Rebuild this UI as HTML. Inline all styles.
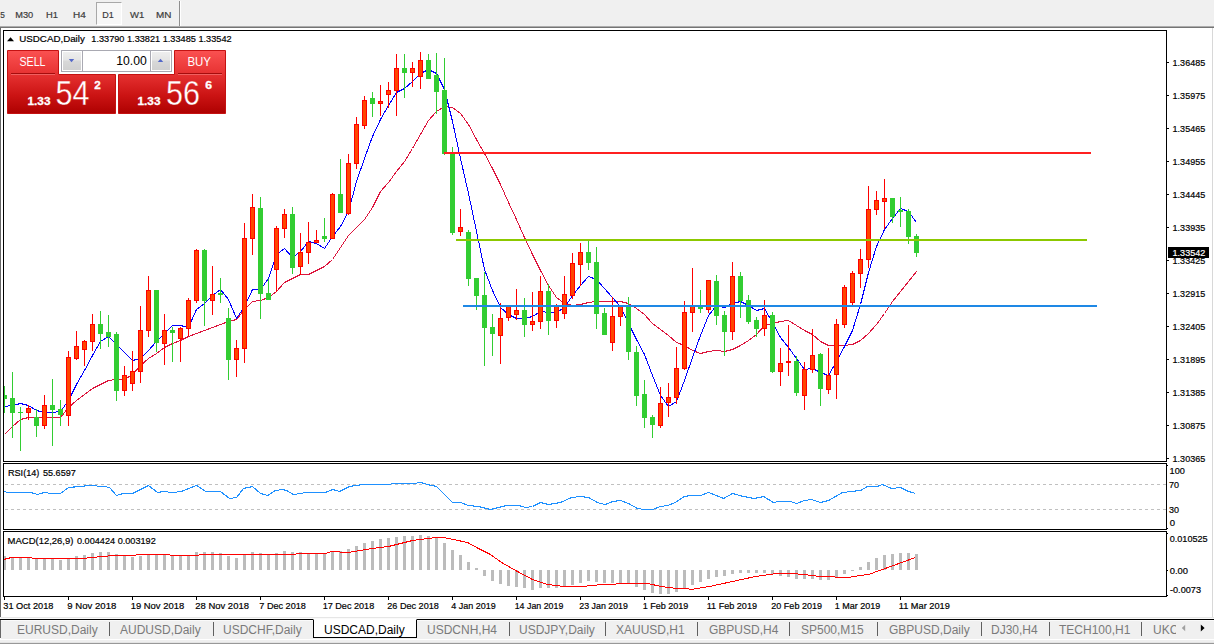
<!DOCTYPE html>
<html><head><meta charset="utf-8">
<style>
*{margin:0;padding:0;box-sizing:border-box}
html,body{width:1214px;height:644px;overflow:hidden;background:#fff;font-family:"Liberation Sans",sans-serif;}
.abs{position:absolute}
#toolbar{position:absolute;left:0;top:0;width:1214px;height:26px;background:#f0f0f0}
#tbline{position:absolute;left:0;top:26px;width:1214px;height:2px;background:#747474;border-top:1px solid #acacac}
.tf{position:absolute;top:9px;font-size:9.5px;color:#3c3c3c;line-height:11px;-webkit-text-stroke:0.15px #3c3c3c}
#d1{position:absolute;left:96px;top:2px;width:26px;height:23px;background:#f7f7f7;border:1px solid #a8a8a8;border-right-color:#fff;border-bottom-color:#fff}
#tbsep{position:absolute;left:179px;top:1px;width:2px;height:25px;background:#fff;border-left:1px solid #8e8e8e}
#leftedge{position:absolute;left:0;top:28px;width:1px;height:610px;background:#686868}
#rightedge{position:absolute;left:1212px;top:28px;width:1px;height:590px;background:#d8d8d8}
#tabbar{position:absolute;left:1px;top:620px;width:1213px;height:19px;background:#f0f0f0;border-top:1px solid #fafafa}
#tabtop{position:absolute;left:0;top:619px;width:1214px;height:1px;background:#000}
#tabpre{position:absolute;left:0;top:617px;width:1214px;height:2px;background:#fafafa;border-top:1px solid #e6e6e6}
#bot1{position:absolute;left:0;top:639px;width:1214px;height:3px;background:#efefef;border-top:1px solid #fff}
#bot2{position:absolute;left:0;top:642px;width:1214px;height:2px;background:#989898;border-top:1px solid #e4e4e4}
.tab{position:absolute;top:623px;font-size:12px;line-height:14px;color:#7a7a7a;white-space:nowrap}
.sep{position:absolute;top:622px;width:1px;height:14px;background:#606060}
#acttab{position:absolute;left:313px;top:619px;width:104px;height:19px;background:#fff;border:1px solid #000;border-top:1px solid #fff}
.lbl{position:absolute;font-size:10px;line-height:10px;color:#000;white-space:nowrap}
</style></head><body>
<div id="toolbar"></div><div id="tbline"></div>
<div id="d1"></div>
<div id="tbsep"></div>
<div id="leftedge"></div><div id="rightedge"></div>
<svg class="abs" style="left:0;top:0" width="1214" height="644" viewBox="0 0 1214 644" font-family="Liberation Sans, sans-serif">
<path d="M4.5,434.5 L12.5,426.5 L20.5,419.5 L28.5,417.5 L36.5,417.5 L44.5,417.5 L52.5,417.5 L60.5,417.5 L68.5,407.5 L76.5,400.5 L84.5,394.5 L92.5,388.5 L100.5,384.5 L108.5,380.5 L116.5,379.5 L124.5,379.5 L132.5,374.5 L140.5,365.5 L148.5,358.5 L156.5,353.5 L164.5,347.5 L172.5,343.5 L180.5,340.5 L188.5,336.5 L196.5,333.5 L204.5,330.5 L212.5,327.5 L220.5,324.5 L228.5,321.5 L236.5,319.5 L244.5,309.5 L252.5,301.5 L260.5,300.5 L268.5,297.5 L276.5,291.5 L284.5,282.5 L292.5,278.5 L300.5,274.5 L308.5,274.5 L316.5,270.5 L324.5,266.5 L332.5,259.5 L340.5,247.5 L348.5,235.5 L356.5,227.5 L364.5,219.5 L372.5,207.5 L380.5,191.5 L388.5,182.5 L396.5,171.5 L404.5,161.5 L412.5,148.5 L420.5,134.5 L428.5,120.5 L436.5,111.5 L444.5,106.5 L452.5,107.5 L460.5,113.5 L468.5,124.5 L476.5,139.5 L484.5,153.5 L492.5,168.5 L500.5,184.5 L508.5,202.5 L516.5,219.5 L524.5,237.5 L532.5,254.5 L540.5,270.5 L548.5,285.5 L556.5,297.5 L564.5,303.5 L572.5,305.5 L580.5,304.5 L588.5,302.5 L596.5,301.5 L604.5,301.5 L612.5,301.5 L620.5,301.5 L628.5,303.5 L636.5,308.5 L644.5,314.5 L652.5,323.5 L660.5,329.5 L668.5,335.5 L676.5,342.5 L684.5,345.5 L692.5,350.5 L700.5,353.5 L708.5,351.5 L716.5,350.5 L724.5,351.5 L732.5,349.5 L740.5,345.5 L748.5,340.5 L756.5,334.5 L764.5,325.5 L772.5,323.5 L780.5,321.5 L788.5,320.5 L796.5,325.5 L804.5,330.5 L812.5,334.5 L820.5,341.5 L828.5,345.5 L836.5,345.5 L844.5,345.5 L852.5,344.5 L860.5,340.5 L868.5,333.5 L876.5,324.5 L884.5,313.5 L892.5,301.5 L900.5,291.5 L908.5,281.5 L916.5,271.5" fill="none" stroke="#dc143c" stroke-width="1.0" stroke-linejoin="round" shape-rendering="crispEdges"/>
<path d="M4.5,406.5 L12.5,405.5 L20.5,403.5 L28.5,405.5 L36.5,410.5 L44.5,412.5 L52.5,412.5 L60.5,411.5 L68.5,400.5 L76.5,384.5 L84.5,370.5 L92.5,355.5 L100.5,341.5 L108.5,336.5 L116.5,344.5 L124.5,352.5 L132.5,360.5 L140.5,358.5 L148.5,350.5 L156.5,341.5 L164.5,333.5 L172.5,325.5 L180.5,325.5 L188.5,327.5 L196.5,309.5 L204.5,303.5 L212.5,295.5 L220.5,289.5 L228.5,299.5 L236.5,318.5 L244.5,306.5 L252.5,289.5 L260.5,289.5 L268.5,278.5 L276.5,254.5 L284.5,248.5 L292.5,257.5 L300.5,251.5 L308.5,241.5 L316.5,243.5 L324.5,248.5 L332.5,236.5 L340.5,226.5 L348.5,211.5 L356.5,181.5 L364.5,158.5 L372.5,136.5 L380.5,119.5 L388.5,105.5 L396.5,92.5 L404.5,88.5 L412.5,81.5 L420.5,73.5 L428.5,69.5 L436.5,73.5 L444.5,89.5 L452.5,121.5 L460.5,158.5 L468.5,193.5 L476.5,231.5 L484.5,269.5 L492.5,290.5 L500.5,307.5 L508.5,314.5 L516.5,318.5 L524.5,318.5 L532.5,316.5 L540.5,311.5 L548.5,312.5 L556.5,312.5 L564.5,307.5 L572.5,295.5 L580.5,285.5 L588.5,276.5 L596.5,279.5 L604.5,288.5 L612.5,297.5 L620.5,306.5 L628.5,323.5 L636.5,339.5 L644.5,354.5 L652.5,375.5 L660.5,395.5 L668.5,406.5 L676.5,401.5 L684.5,380.5 L692.5,357.5 L700.5,335.5 L708.5,315.5 L716.5,305.5 L724.5,307.5 L732.5,303.5 L740.5,301.5 L748.5,305.5 L756.5,310.5 L764.5,308.5 L772.5,322.5 L780.5,337.5 L788.5,347.5 L796.5,358.5 L804.5,369.5 L812.5,368.5 L820.5,372.5 L828.5,375.5 L836.5,361.5 L844.5,346.5 L852.5,330.5 L860.5,304.5 L868.5,272.5 L876.5,246.5 L884.5,229.5 L892.5,218.5 L900.5,208.5 L908.5,211.5 L916.5,222.5" fill="none" stroke="#0000ff" stroke-width="1.0" stroke-linejoin="round" shape-rendering="crispEdges"/>
<clipPath id="cc"><rect x="4" y="31" width="1162" height="430"/></clipPath>
<g shape-rendering="crispEdges" clip-path="url(#cc)">
<rect x="4" y="386" width="1" height="27" fill="#32cd32" />
<rect x="2" y="395" width="5" height="4" fill="#32cd32" />
<rect x="12" y="372" width="1" height="66" fill="#32cd32" />
<rect x="10" y="398" width="5" height="15" fill="#32cd32" />
<rect x="20" y="407" width="1" height="44" fill="#32cd32" />
<rect x="18" y="412" width="5" height="1" fill="#32cd32" />
<rect x="28" y="405" width="1" height="15" fill="#ff0000" />
<rect x="26" y="408" width="5" height="5" fill="#ff0000" />
<rect x="27" y="409" width="3" height="3" fill="#ff4500" />
<rect x="36" y="409" width="1" height="28" fill="#32cd32" />
<rect x="34" y="417" width="5" height="9" fill="#32cd32" />
<rect x="44" y="395" width="1" height="34" fill="#ff0000" />
<rect x="42" y="405" width="5" height="21" fill="#ff0000" />
<rect x="43" y="406" width="3" height="19" fill="#ff4500" />
<rect x="52" y="379" width="1" height="67" fill="#32cd32" />
<rect x="50" y="405" width="5" height="5" fill="#32cd32" />
<rect x="60" y="400" width="1" height="26" fill="#32cd32" />
<rect x="58" y="409" width="5" height="6" fill="#32cd32" />
<rect x="68" y="351" width="1" height="75" fill="#ff0000" />
<rect x="66" y="357" width="5" height="59" fill="#ff0000" />
<rect x="67" y="358" width="3" height="57" fill="#ff4500" />
<rect x="76" y="331" width="1" height="29" fill="#ff0000" />
<rect x="74" y="346" width="5" height="13" fill="#ff0000" />
<rect x="75" y="347" width="3" height="11" fill="#ff4500" />
<rect x="84" y="340" width="1" height="26" fill="#ff0000" />
<rect x="82" y="341" width="5" height="9" fill="#ff0000" />
<rect x="83" y="342" width="3" height="7" fill="#ff4500" />
<rect x="92" y="314" width="1" height="37" fill="#ff0000" />
<rect x="90" y="324" width="5" height="18" fill="#ff0000" />
<rect x="91" y="325" width="3" height="16" fill="#ff4500" />
<rect x="100" y="311" width="1" height="38" fill="#32cd32" />
<rect x="98" y="324" width="5" height="10" fill="#32cd32" />
<rect x="108" y="315" width="1" height="32" fill="#32cd32" />
<rect x="106" y="332" width="5" height="5" fill="#32cd32" />
<rect x="116" y="332" width="1" height="69" fill="#32cd32" />
<rect x="114" y="334" width="5" height="57" fill="#32cd32" />
<rect x="124" y="366" width="1" height="30" fill="#ff0000" />
<rect x="122" y="375" width="5" height="16" fill="#ff0000" />
<rect x="123" y="376" width="3" height="14" fill="#ff4500" />
<rect x="132" y="351" width="1" height="40" fill="#ff0000" />
<rect x="130" y="371" width="5" height="13" fill="#ff0000" />
<rect x="131" y="372" width="3" height="11" fill="#ff4500" />
<rect x="140" y="306" width="1" height="77" fill="#ff0000" />
<rect x="138" y="330" width="5" height="42" fill="#ff0000" />
<rect x="139" y="331" width="3" height="40" fill="#ff4500" />
<rect x="148" y="276" width="1" height="61" fill="#ff0000" />
<rect x="146" y="290" width="5" height="41" fill="#ff0000" />
<rect x="147" y="291" width="3" height="39" fill="#ff4500" />
<rect x="156" y="290" width="1" height="62" fill="#32cd32" />
<rect x="154" y="290" width="5" height="53" fill="#32cd32" />
<rect x="164" y="314" width="1" height="51" fill="#ff0000" />
<rect x="162" y="330" width="5" height="14" fill="#ff0000" />
<rect x="163" y="331" width="3" height="12" fill="#ff4500" />
<rect x="172" y="327" width="1" height="35" fill="#32cd32" />
<rect x="170" y="330" width="5" height="3" fill="#32cd32" />
<rect x="180" y="327" width="1" height="35" fill="#ff0000" />
<rect x="178" y="328" width="5" height="11" fill="#ff0000" />
<rect x="179" y="329" width="3" height="9" fill="#ff4500" />
<rect x="188" y="298" width="1" height="38" fill="#ff0000" />
<rect x="186" y="300" width="5" height="29" fill="#ff0000" />
<rect x="187" y="301" width="3" height="27" fill="#ff4500" />
<rect x="196" y="249" width="1" height="54" fill="#ff0000" />
<rect x="194" y="250" width="5" height="51" fill="#ff0000" />
<rect x="195" y="251" width="3" height="49" fill="#ff4500" />
<rect x="204" y="249" width="1" height="77" fill="#32cd32" />
<rect x="202" y="250" width="5" height="51" fill="#32cd32" />
<rect x="212" y="266" width="1" height="49" fill="#ff0000" />
<rect x="210" y="294" width="5" height="7" fill="#ff0000" />
<rect x="211" y="295" width="3" height="5" fill="#ff4500" />
<rect x="220" y="278" width="1" height="25" fill="#32cd32" />
<rect x="218" y="293" width="5" height="2" fill="#32cd32" />
<rect x="228" y="308" width="1" height="72" fill="#32cd32" />
<rect x="226" y="318" width="5" height="42" fill="#32cd32" />
<rect x="236" y="340" width="1" height="37" fill="#ff0000" />
<rect x="234" y="348" width="5" height="12" fill="#ff0000" />
<rect x="235" y="349" width="3" height="10" fill="#ff4500" />
<rect x="244" y="223" width="1" height="140" fill="#ff0000" />
<rect x="242" y="238" width="5" height="111" fill="#ff0000" />
<rect x="243" y="239" width="3" height="109" fill="#ff4500" />
<rect x="252" y="194" width="1" height="61" fill="#ff0000" />
<rect x="250" y="207" width="5" height="32" fill="#ff0000" />
<rect x="251" y="208" width="3" height="30" fill="#ff4500" />
<rect x="260" y="197" width="1" height="122" fill="#32cd32" />
<rect x="258" y="208" width="5" height="86" fill="#32cd32" />
<rect x="268" y="279" width="1" height="21" fill="#32cd32" />
<rect x="266" y="293" width="5" height="7" fill="#32cd32" />
<rect x="276" y="226" width="1" height="66" fill="#ff0000" />
<rect x="274" y="228" width="5" height="42" fill="#ff0000" />
<rect x="275" y="229" width="3" height="40" fill="#ff4500" />
<rect x="284" y="209" width="1" height="29" fill="#ff0000" />
<rect x="282" y="214" width="5" height="15" fill="#ff0000" />
<rect x="283" y="215" width="3" height="13" fill="#ff4500" />
<rect x="292" y="207" width="1" height="67" fill="#32cd32" />
<rect x="290" y="214" width="5" height="54" fill="#32cd32" />
<rect x="300" y="233" width="1" height="42" fill="#ff0000" />
<rect x="298" y="252" width="5" height="15" fill="#ff0000" />
<rect x="299" y="253" width="3" height="13" fill="#ff4500" />
<rect x="308" y="222" width="1" height="42" fill="#ff0000" />
<rect x="306" y="242" width="5" height="11" fill="#ff0000" />
<rect x="307" y="243" width="3" height="9" fill="#ff4500" />
<rect x="316" y="230" width="1" height="13" fill="#ff0000" />
<rect x="314" y="240" width="5" height="3" fill="#ff0000" />
<rect x="315" y="241" width="3" height="1" fill="#ff4500" />
<rect x="324" y="218" width="1" height="24" fill="#32cd32" />
<rect x="322" y="236" width="5" height="3" fill="#32cd32" />
<rect x="332" y="193" width="1" height="46" fill="#ff0000" />
<rect x="330" y="194" width="5" height="45" fill="#ff0000" />
<rect x="331" y="195" width="3" height="43" fill="#ff4500" />
<rect x="340" y="159" width="1" height="54" fill="#32cd32" />
<rect x="338" y="194" width="5" height="19" fill="#32cd32" />
<rect x="348" y="154" width="1" height="61" fill="#ff0000" />
<rect x="346" y="163" width="5" height="51" fill="#ff0000" />
<rect x="347" y="164" width="3" height="49" fill="#ff4500" />
<rect x="356" y="117" width="1" height="52" fill="#ff0000" />
<rect x="354" y="124" width="5" height="40" fill="#ff0000" />
<rect x="355" y="125" width="3" height="38" fill="#ff4500" />
<rect x="364" y="96" width="1" height="33" fill="#ff0000" />
<rect x="362" y="100" width="5" height="26" fill="#ff0000" />
<rect x="363" y="101" width="3" height="24" fill="#ff4500" />
<rect x="372" y="92" width="1" height="25" fill="#32cd32" />
<rect x="370" y="98" width="5" height="6" fill="#32cd32" />
<rect x="380" y="85" width="1" height="31" fill="#ff0000" />
<rect x="378" y="101" width="5" height="3" fill="#ff0000" />
<rect x="379" y="102" width="3" height="1" fill="#ff4500" />
<rect x="388" y="82" width="1" height="26" fill="#ff0000" />
<rect x="386" y="90" width="5" height="5" fill="#ff0000" />
<rect x="387" y="91" width="3" height="3" fill="#ff4500" />
<rect x="396" y="54" width="1" height="62" fill="#ff0000" />
<rect x="394" y="68" width="5" height="23" fill="#ff0000" />
<rect x="395" y="69" width="3" height="21" fill="#ff4500" />
<rect x="404" y="54" width="1" height="44" fill="#32cd32" />
<rect x="402" y="68" width="5" height="5" fill="#32cd32" />
<rect x="412" y="62" width="1" height="25" fill="#ff0000" />
<rect x="410" y="68" width="5" height="5" fill="#ff0000" />
<rect x="411" y="69" width="3" height="3" fill="#ff4500" />
<rect x="420" y="52" width="1" height="37" fill="#ff0000" />
<rect x="418" y="60" width="5" height="17" fill="#ff0000" />
<rect x="419" y="61" width="3" height="15" fill="#ff4500" />
<rect x="428" y="54" width="1" height="25" fill="#32cd32" />
<rect x="426" y="60" width="5" height="19" fill="#32cd32" />
<rect x="436" y="53" width="1" height="61" fill="#32cd32" />
<rect x="434" y="75" width="5" height="17" fill="#32cd32" />
<rect x="444" y="58" width="1" height="97" fill="#32cd32" />
<rect x="442" y="90" width="5" height="64" fill="#32cd32" />
<rect x="452" y="147" width="1" height="88" fill="#32cd32" />
<rect x="450" y="153" width="5" height="80" fill="#32cd32" />
<rect x="460" y="209" width="1" height="27" fill="#ff0000" />
<rect x="458" y="227" width="5" height="5" fill="#ff0000" />
<rect x="459" y="228" width="3" height="3" fill="#ff4500" />
<rect x="468" y="230" width="1" height="56" fill="#32cd32" />
<rect x="466" y="232" width="5" height="47" fill="#32cd32" />
<rect x="476" y="278" width="1" height="32" fill="#32cd32" />
<rect x="474" y="278" width="5" height="18" fill="#32cd32" />
<rect x="484" y="272" width="1" height="94" fill="#32cd32" />
<rect x="482" y="295" width="5" height="33" fill="#32cd32" />
<rect x="492" y="314" width="1" height="42" fill="#32cd32" />
<rect x="490" y="327" width="5" height="7" fill="#32cd32" />
<rect x="500" y="303" width="1" height="61" fill="#ff0000" />
<rect x="498" y="318" width="5" height="18" fill="#ff0000" />
<rect x="499" y="319" width="3" height="16" fill="#ff4500" />
<rect x="508" y="305" width="1" height="16" fill="#ff0000" />
<rect x="506" y="306" width="5" height="12" fill="#ff0000" />
<rect x="507" y="307" width="3" height="10" fill="#ff4500" />
<rect x="516" y="289" width="1" height="31" fill="#ff0000" />
<rect x="514" y="310" width="5" height="5" fill="#ff0000" />
<rect x="515" y="311" width="3" height="3" fill="#ff4500" />
<rect x="524" y="298" width="1" height="39" fill="#32cd32" />
<rect x="522" y="310" width="5" height="15" fill="#32cd32" />
<rect x="532" y="292" width="1" height="39" fill="#ff0000" />
<rect x="530" y="321" width="5" height="4" fill="#ff0000" />
<rect x="531" y="322" width="3" height="2" fill="#ff4500" />
<rect x="540" y="276" width="1" height="53" fill="#ff0000" />
<rect x="538" y="291" width="5" height="31" fill="#ff0000" />
<rect x="539" y="292" width="3" height="29" fill="#ff4500" />
<rect x="548" y="284" width="1" height="51" fill="#32cd32" />
<rect x="546" y="291" width="5" height="30" fill="#32cd32" />
<rect x="556" y="304" width="1" height="24" fill="#ff0000" />
<rect x="554" y="306" width="5" height="15" fill="#ff0000" />
<rect x="555" y="307" width="3" height="13" fill="#ff4500" />
<rect x="564" y="276" width="1" height="43" fill="#ff0000" />
<rect x="562" y="294" width="5" height="20" fill="#ff0000" />
<rect x="563" y="295" width="3" height="18" fill="#ff4500" />
<rect x="572" y="253" width="1" height="46" fill="#ff0000" />
<rect x="570" y="263" width="5" height="33" fill="#ff0000" />
<rect x="571" y="264" width="3" height="31" fill="#ff4500" />
<rect x="580" y="243" width="1" height="43" fill="#ff0000" />
<rect x="578" y="252" width="5" height="13" fill="#ff0000" />
<rect x="579" y="253" width="3" height="11" fill="#ff4500" />
<rect x="588" y="240" width="1" height="30" fill="#32cd32" />
<rect x="586" y="252" width="5" height="11" fill="#32cd32" />
<rect x="596" y="247" width="1" height="82" fill="#32cd32" />
<rect x="594" y="262" width="5" height="52" fill="#32cd32" />
<rect x="604" y="308" width="1" height="27" fill="#32cd32" />
<rect x="602" y="313" width="5" height="22" fill="#32cd32" />
<rect x="612" y="297" width="1" height="54" fill="#ff0000" />
<rect x="610" y="316" width="5" height="27" fill="#ff0000" />
<rect x="611" y="317" width="3" height="25" fill="#ff4500" />
<rect x="620" y="305" width="1" height="21" fill="#ff0000" />
<rect x="618" y="306" width="5" height="11" fill="#ff0000" />
<rect x="619" y="307" width="3" height="9" fill="#ff4500" />
<rect x="628" y="297" width="1" height="63" fill="#32cd32" />
<rect x="626" y="306" width="5" height="46" fill="#32cd32" />
<rect x="636" y="346" width="1" height="60" fill="#32cd32" />
<rect x="634" y="352" width="5" height="44" fill="#32cd32" />
<rect x="644" y="380" width="1" height="48" fill="#32cd32" />
<rect x="642" y="394" width="5" height="24" fill="#32cd32" />
<rect x="652" y="415" width="1" height="23" fill="#32cd32" />
<rect x="650" y="417" width="5" height="8" fill="#32cd32" />
<rect x="660" y="387" width="1" height="41" fill="#ff0000" />
<rect x="658" y="403" width="5" height="23" fill="#ff0000" />
<rect x="659" y="404" width="3" height="21" fill="#ff4500" />
<rect x="668" y="383" width="1" height="34" fill="#ff0000" />
<rect x="666" y="397" width="5" height="6" fill="#ff0000" />
<rect x="667" y="398" width="3" height="4" fill="#ff4500" />
<rect x="676" y="347" width="1" height="57" fill="#ff0000" />
<rect x="674" y="368" width="5" height="30" fill="#ff0000" />
<rect x="675" y="369" width="3" height="28" fill="#ff4500" />
<rect x="684" y="301" width="1" height="69" fill="#ff0000" />
<rect x="682" y="312" width="5" height="57" fill="#ff0000" />
<rect x="683" y="313" width="3" height="55" fill="#ff4500" />
<rect x="692" y="268" width="1" height="64" fill="#ff0000" />
<rect x="690" y="306" width="5" height="7" fill="#ff0000" />
<rect x="691" y="307" width="3" height="5" fill="#ff4500" />
<rect x="700" y="290" width="1" height="23" fill="#32cd32" />
<rect x="698" y="307" width="5" height="2" fill="#32cd32" />
<rect x="708" y="280" width="1" height="33" fill="#ff0000" />
<rect x="706" y="280" width="5" height="30" fill="#ff0000" />
<rect x="707" y="281" width="3" height="28" fill="#ff4500" />
<rect x="716" y="275" width="1" height="50" fill="#32cd32" />
<rect x="714" y="281" width="5" height="35" fill="#32cd32" />
<rect x="724" y="311" width="1" height="45" fill="#32cd32" />
<rect x="722" y="315" width="5" height="17" fill="#32cd32" />
<rect x="732" y="262" width="1" height="78" fill="#ff0000" />
<rect x="730" y="276" width="5" height="56" fill="#ff0000" />
<rect x="731" y="277" width="3" height="54" fill="#ff4500" />
<rect x="740" y="272" width="1" height="46" fill="#32cd32" />
<rect x="738" y="276" width="5" height="25" fill="#32cd32" />
<rect x="748" y="295" width="1" height="29" fill="#32cd32" />
<rect x="746" y="300" width="5" height="22" fill="#32cd32" />
<rect x="756" y="317" width="1" height="20" fill="#32cd32" />
<rect x="754" y="320" width="5" height="9" fill="#32cd32" />
<rect x="764" y="300" width="1" height="36" fill="#ff0000" />
<rect x="762" y="315" width="5" height="14" fill="#ff0000" />
<rect x="763" y="316" width="3" height="12" fill="#ff4500" />
<rect x="772" y="312" width="1" height="61" fill="#32cd32" />
<rect x="770" y="315" width="5" height="57" fill="#32cd32" />
<rect x="780" y="348" width="1" height="38" fill="#ff0000" />
<rect x="778" y="363" width="5" height="9" fill="#ff0000" />
<rect x="779" y="364" width="3" height="7" fill="#ff4500" />
<rect x="788" y="325" width="1" height="51" fill="#ff0000" />
<rect x="786" y="361" width="5" height="2" fill="#ff0000" />
<rect x="796" y="356" width="1" height="40" fill="#32cd32" />
<rect x="794" y="361" width="5" height="32" fill="#32cd32" />
<rect x="804" y="362" width="1" height="48" fill="#ff0000" />
<rect x="802" y="369" width="5" height="27" fill="#ff0000" />
<rect x="803" y="370" width="3" height="25" fill="#ff4500" />
<rect x="812" y="329" width="1" height="44" fill="#ff0000" />
<rect x="810" y="355" width="5" height="15" fill="#ff0000" />
<rect x="811" y="356" width="3" height="13" fill="#ff4500" />
<rect x="820" y="353" width="1" height="53" fill="#32cd32" />
<rect x="818" y="354" width="5" height="35" fill="#32cd32" />
<rect x="828" y="348" width="1" height="46" fill="#ff0000" />
<rect x="826" y="375" width="5" height="15" fill="#ff0000" />
<rect x="827" y="376" width="3" height="13" fill="#ff4500" />
<rect x="836" y="319" width="1" height="80" fill="#ff0000" />
<rect x="834" y="324" width="5" height="51" fill="#ff0000" />
<rect x="835" y="325" width="3" height="49" fill="#ff4500" />
<rect x="844" y="285" width="1" height="43" fill="#ff0000" />
<rect x="842" y="287" width="5" height="38" fill="#ff0000" />
<rect x="843" y="288" width="3" height="36" fill="#ff4500" />
<rect x="852" y="271" width="1" height="34" fill="#ff0000" />
<rect x="850" y="273" width="5" height="30" fill="#ff0000" />
<rect x="851" y="274" width="3" height="28" fill="#ff4500" />
<rect x="860" y="249" width="1" height="39" fill="#ff0000" />
<rect x="858" y="259" width="5" height="15" fill="#ff0000" />
<rect x="859" y="260" width="3" height="13" fill="#ff4500" />
<rect x="868" y="186" width="1" height="82" fill="#ff0000" />
<rect x="866" y="209" width="5" height="51" fill="#ff0000" />
<rect x="867" y="210" width="3" height="49" fill="#ff4500" />
<rect x="876" y="191" width="1" height="24" fill="#ff0000" />
<rect x="874" y="200" width="5" height="10" fill="#ff0000" />
<rect x="875" y="201" width="3" height="8" fill="#ff4500" />
<rect x="884" y="179" width="1" height="50" fill="#ff0000" />
<rect x="882" y="198" width="5" height="4" fill="#ff0000" />
<rect x="883" y="199" width="3" height="2" fill="#ff4500" />
<rect x="892" y="198" width="1" height="25" fill="#32cd32" />
<rect x="890" y="198" width="5" height="19" fill="#32cd32" />
<rect x="900" y="197" width="1" height="30" fill="#32cd32" />
<rect x="898" y="210" width="5" height="2" fill="#32cd32" />
<rect x="908" y="209" width="1" height="35" fill="#32cd32" />
<rect x="906" y="211" width="5" height="26" fill="#32cd32" />
<rect x="916" y="234" width="1" height="23" fill="#32cd32" />
<rect x="914" y="236" width="5" height="17" fill="#32cd32" />
<rect x="444" y="152" width="647" height="2" fill="#ff2020" />
<rect x="456" y="239" width="631" height="2" fill="#8cc800" />
<rect x="463" y="305" width="634" height="2" fill="#1e88e5" />
</g>
<g shape-rendering="crispEdges">
<line x1="5" y1="484.5" x2="1166" y2="484.5" stroke="#c0c0c0" stroke-width="1" stroke-dasharray="3,3"/>
<line x1="5" y1="509.5" x2="1166" y2="509.5" stroke="#c0c0c0" stroke-width="1" stroke-dasharray="3,3"/>
<rect x="3" y="556" width="3" height="14" fill="#bcbcbc" />
<rect x="11" y="557" width="3" height="13" fill="#bcbcbc" />
<rect x="19" y="557" width="3" height="13" fill="#bcbcbc" />
<rect x="27" y="558" width="3" height="12" fill="#bcbcbc" />
<rect x="35" y="559" width="3" height="11" fill="#bcbcbc" />
<rect x="43" y="559" width="3" height="11" fill="#bcbcbc" />
<rect x="51" y="559" width="3" height="11" fill="#bcbcbc" />
<rect x="59" y="560" width="3" height="10" fill="#bcbcbc" />
<rect x="67" y="559" width="3" height="11" fill="#bcbcbc" />
<rect x="75" y="556" width="3" height="14" fill="#bcbcbc" />
<rect x="83" y="555" width="3" height="15" fill="#bcbcbc" />
<rect x="91" y="553" width="3" height="17" fill="#bcbcbc" />
<rect x="99" y="552" width="3" height="18" fill="#bcbcbc" />
<rect x="107" y="552" width="3" height="18" fill="#bcbcbc" />
<rect x="115" y="554" width="3" height="16" fill="#bcbcbc" />
<rect x="123" y="556" width="3" height="14" fill="#bcbcbc" />
<rect x="131" y="557" width="3" height="13" fill="#bcbcbc" />
<rect x="139" y="556" width="3" height="14" fill="#bcbcbc" />
<rect x="147" y="554" width="3" height="16" fill="#bcbcbc" />
<rect x="155" y="554" width="3" height="16" fill="#bcbcbc" />
<rect x="163" y="554" width="3" height="16" fill="#bcbcbc" />
<rect x="171" y="556" width="3" height="14" fill="#bcbcbc" />
<rect x="179" y="556" width="3" height="14" fill="#bcbcbc" />
<rect x="187" y="556" width="3" height="14" fill="#bcbcbc" />
<rect x="195" y="552" width="3" height="18" fill="#bcbcbc" />
<rect x="203" y="552" width="3" height="18" fill="#bcbcbc" />
<rect x="211" y="552" width="3" height="18" fill="#bcbcbc" />
<rect x="219" y="553" width="3" height="17" fill="#bcbcbc" />
<rect x="227" y="556" width="3" height="14" fill="#bcbcbc" />
<rect x="235" y="558" width="3" height="12" fill="#bcbcbc" />
<rect x="243" y="554" width="3" height="16" fill="#bcbcbc" />
<rect x="251" y="552" width="3" height="18" fill="#bcbcbc" />
<rect x="259" y="553" width="3" height="17" fill="#bcbcbc" />
<rect x="267" y="554" width="3" height="16" fill="#bcbcbc" />
<rect x="275" y="553" width="3" height="17" fill="#bcbcbc" />
<rect x="283" y="551" width="3" height="19" fill="#bcbcbc" />
<rect x="291" y="552" width="3" height="18" fill="#bcbcbc" />
<rect x="299" y="552" width="3" height="18" fill="#bcbcbc" />
<rect x="307" y="553" width="3" height="17" fill="#bcbcbc" />
<rect x="315" y="554" width="3" height="16" fill="#bcbcbc" />
<rect x="323" y="554" width="3" height="16" fill="#bcbcbc" />
<rect x="331" y="551" width="3" height="19" fill="#bcbcbc" />
<rect x="339" y="551" width="3" height="19" fill="#bcbcbc" />
<rect x="347" y="549" width="3" height="21" fill="#bcbcbc" />
<rect x="355" y="546" width="3" height="24" fill="#bcbcbc" />
<rect x="363" y="543" width="3" height="27" fill="#bcbcbc" />
<rect x="371" y="541" width="3" height="29" fill="#bcbcbc" />
<rect x="379" y="539" width="3" height="31" fill="#bcbcbc" />
<rect x="387" y="538" width="3" height="32" fill="#bcbcbc" />
<rect x="395" y="537" width="3" height="33" fill="#bcbcbc" />
<rect x="403" y="536" width="3" height="34" fill="#bcbcbc" />
<rect x="411" y="536" width="3" height="34" fill="#bcbcbc" />
<rect x="419" y="535" width="3" height="35" fill="#bcbcbc" />
<rect x="427" y="536" width="3" height="34" fill="#bcbcbc" />
<rect x="435" y="538" width="3" height="32" fill="#bcbcbc" />
<rect x="443" y="543" width="3" height="27" fill="#bcbcbc" />
<rect x="451" y="550" width="3" height="20" fill="#bcbcbc" />
<rect x="459" y="555" width="3" height="15" fill="#bcbcbc" />
<rect x="467" y="562" width="3" height="8" fill="#bcbcbc" />
<rect x="475" y="568" width="3" height="2" fill="#bcbcbc" />
<rect x="483" y="570" width="3" height="6" fill="#bcbcbc" />
<rect x="491" y="570" width="3" height="11" fill="#bcbcbc" />
<rect x="499" y="570" width="3" height="14" fill="#bcbcbc" />
<rect x="507" y="570" width="3" height="16" fill="#bcbcbc" />
<rect x="515" y="570" width="3" height="17" fill="#bcbcbc" />
<rect x="523" y="570" width="3" height="18" fill="#bcbcbc" />
<rect x="531" y="570" width="3" height="20" fill="#bcbcbc" />
<rect x="539" y="570" width="3" height="18" fill="#bcbcbc" />
<rect x="547" y="570" width="3" height="18" fill="#bcbcbc" />
<rect x="555" y="570" width="3" height="18" fill="#bcbcbc" />
<rect x="563" y="570" width="3" height="17" fill="#bcbcbc" />
<rect x="571" y="570" width="3" height="15" fill="#bcbcbc" />
<rect x="579" y="570" width="3" height="13" fill="#bcbcbc" />
<rect x="587" y="570" width="3" height="11" fill="#bcbcbc" />
<rect x="595" y="570" width="3" height="12" fill="#bcbcbc" />
<rect x="603" y="570" width="3" height="13" fill="#bcbcbc" />
<rect x="611" y="570" width="3" height="13" fill="#bcbcbc" />
<rect x="619" y="570" width="3" height="13" fill="#bcbcbc" />
<rect x="627" y="570" width="3" height="13" fill="#bcbcbc" />
<rect x="635" y="570" width="3" height="17" fill="#bcbcbc" />
<rect x="643" y="570" width="3" height="20" fill="#bcbcbc" />
<rect x="651" y="570" width="3" height="23" fill="#bcbcbc" />
<rect x="659" y="570" width="3" height="24" fill="#bcbcbc" />
<rect x="667" y="570" width="3" height="24" fill="#bcbcbc" />
<rect x="675" y="570" width="3" height="22" fill="#bcbcbc" />
<rect x="683" y="570" width="3" height="18" fill="#bcbcbc" />
<rect x="691" y="570" width="3" height="15" fill="#bcbcbc" />
<rect x="699" y="570" width="3" height="12" fill="#bcbcbc" />
<rect x="707" y="570" width="3" height="9" fill="#bcbcbc" />
<rect x="715" y="570" width="3" height="7" fill="#bcbcbc" />
<rect x="723" y="570" width="3" height="6" fill="#bcbcbc" />
<rect x="731" y="570" width="3" height="4" fill="#bcbcbc" />
<rect x="739" y="570" width="3" height="3" fill="#bcbcbc" />
<rect x="747" y="570" width="3" height="3" fill="#bcbcbc" />
<rect x="755" y="570" width="3" height="3" fill="#bcbcbc" />
<rect x="763" y="570" width="3" height="3" fill="#bcbcbc" />
<rect x="771" y="570" width="3" height="4" fill="#bcbcbc" />
<rect x="779" y="570" width="3" height="6" fill="#bcbcbc" />
<rect x="787" y="570" width="3" height="7" fill="#bcbcbc" />
<rect x="795" y="570" width="3" height="9" fill="#bcbcbc" />
<rect x="803" y="570" width="3" height="9" fill="#bcbcbc" />
<rect x="811" y="570" width="3" height="9" fill="#bcbcbc" />
<rect x="819" y="570" width="3" height="10" fill="#bcbcbc" />
<rect x="827" y="570" width="3" height="10" fill="#bcbcbc" />
<rect x="835" y="570" width="3" height="7" fill="#bcbcbc" />
<rect x="843" y="570" width="3" height="4" fill="#bcbcbc" />
<rect x="851" y="570" width="3" height="1" fill="#bcbcbc" />
<rect x="859" y="567" width="3" height="3" fill="#bcbcbc" />
<rect x="867" y="562" width="3" height="8" fill="#bcbcbc" />
<rect x="875" y="558" width="3" height="12" fill="#bcbcbc" />
<rect x="883" y="555" width="3" height="15" fill="#bcbcbc" />
<rect x="891" y="554" width="3" height="16" fill="#bcbcbc" />
<rect x="899" y="553" width="3" height="17" fill="#bcbcbc" />
<rect x="907" y="553" width="3" height="17" fill="#bcbcbc" />
<rect x="915" y="554" width="3" height="16" fill="#bcbcbc" />
</g>
<path d="M3.5,491.5 L8.5,492.5 L30.5,492.5 L37.5,494.5 L44.5,492.5 L51.5,493.5 L60.5,493.5 L68.5,487.5 L79.5,486.5 L89.5,485.5 L95.5,485.5 L98.5,486.5 L104.5,486.5 L109.5,487.5 L116.5,495.5 L123.5,493.5 L132.5,493.5 L148.5,485.5 L157.5,492.5 L163.5,491.5 L172.5,492.5 L181.5,491.5 L188.5,488.5 L196.5,485.5 L205.5,491.5 L220.5,491.5 L229.5,498.5 L236.5,497.5 L243.5,488.5 L252.5,486.5 L260.5,493.5 L267.5,495.5 L275.5,490.5 L282.5,489.5 L286.5,490.5 L293.5,494.5 L300.5,493.5 L305.5,492.5 L325.5,492.5 L332.5,489.5 L339.5,491.5 L349.5,486.5 L362.5,484.5 L388.5,484.5 L393.5,483.5 L413.5,483.5 L420.5,482.5 L427.5,484.5 L436.5,486.5 L452.5,502.5 L460.5,502.5 L468.5,505.5 L478.5,506.5 L490.5,509.5 L506.5,505.5 L518.5,505.5 L525.5,507.5 L532.5,506.5 L540.5,502.5 L548.5,504.5 L560.5,502.5 L571.5,497.5 L580.5,496.5 L588.5,497.5 L597.5,502.5 L600.5,503.5 L605.5,504.5 L612.5,501.5 L620.5,500.5 L628.5,503.5 L637.5,508.5 L644.5,509.5 L652.5,509.5 L660.5,506.5 L667.5,505.5 L675.5,502.5 L684.5,496.5 L690.5,495.5 L700.5,495.5 L708.5,492.5 L716.5,495.5 L723.5,498.5 L732.5,493.5 L743.5,496.5 L754.5,498.5 L763.5,496.5 L773.5,502.5 L778.5,501.5 L790.5,501.5 L796.5,503.5 L804.5,500.5 L811.5,499.5 L820.5,502.5 L828.5,500.5 L842.5,492.5 L851.5,491.5 L859.5,490.5 L860.5,490.5 L867.5,486.5 L877.5,486.5 L882.5,484.5 L891.5,488.5 L900.5,487.5 L908.5,491.5 L915.5,493.5" fill="none" stroke="#1e90ff" stroke-width="1.1" stroke-linejoin="round" shape-rendering="crispEdges"/>
<path d="M3.5,559.5 L11.5,557.5 L51.5,558.5 L84.5,558.5 L89.5,557.5 L104.5,556.5 L112.5,555.5 L132.5,555.5 L139.5,554.5 L168.5,554.5 L171.5,555.5 L196.5,555.5 L201.5,554.5 L293.5,554.5 L298.5,553.5 L300.5,553.5 L325.5,553.5 L331.5,551.5 L348.5,552.5 L371.5,548.5 L388.5,546.5 L412.5,540.5 L427.5,538.5 L436.5,537.5 L443.5,537.5 L453.5,539.5 L467.5,542.5 L478.5,548.5 L490.5,554.5 L501.5,562.5 L517.5,571.5 L532.5,579.5 L547.5,584.5 L563.5,586.5 L580.5,586.5 L593.5,585.5 L600.5,584.5 L614.5,584.5 L617.5,583.5 L647.5,583.5 L661.5,586.5 L676.5,588.5 L686.5,588.5 L691.5,589.5 L709.5,586.5 L732.5,581.5 L755.5,576.5 L776.5,573.5 L790.5,573.5 L804.5,574.5 L819.5,576.5 L832.5,576.5 L837.5,577.5 L847.5,577.5 L860.5,575.5 L868.5,574.5 L915.5,557.5" fill="none" stroke="#ff0000" stroke-width="1.0" stroke-linejoin="round" shape-rendering="crispEdges"/>
<g shape-rendering="crispEdges" fill="#000">
<rect x="3" y="30" width="1" height="432" fill="#000" />
<rect x="3" y="463" width="1" height="67" fill="#000" />
<rect x="3" y="531" width="1" height="66" fill="#000" />
<rect x="3" y="30" width="1164" height="1" fill="#000" />
<rect x="1166" y="30" width="1" height="432" fill="#000" />
<rect x="1166" y="463" width="1" height="67" fill="#000" />
<rect x="1166" y="531" width="1" height="66" fill="#000" />
<rect x="3" y="461" width="1164" height="1" fill="#000" />
<rect x="3" y="463" width="1164" height="1" fill="#000" />
<rect x="3" y="529" width="1164" height="1" fill="#000" />
<rect x="3" y="531" width="1164" height="1" fill="#000" />
<rect x="3" y="596" width="1164" height="1" fill="#000" />
<rect x="1167" y="62" width="2" height="1" fill="#000" />
<rect x="1167" y="95" width="2" height="1" fill="#000" />
<rect x="1167" y="128" width="2" height="1" fill="#000" />
<rect x="1167" y="161" width="2" height="1" fill="#000" />
<rect x="1167" y="194" width="2" height="1" fill="#000" />
<rect x="1167" y="227" width="2" height="1" fill="#000" />
<rect x="1167" y="260" width="2" height="1" fill="#000" />
<rect x="1167" y="293" width="2" height="1" fill="#000" />
<rect x="1167" y="326" width="2" height="1" fill="#000" />
<rect x="1167" y="359" width="2" height="1" fill="#000" />
<rect x="1167" y="392" width="2" height="1" fill="#000" />
<rect x="1167" y="425" width="2" height="1" fill="#000" />
<rect x="1167" y="458" width="2" height="1" fill="#000" />
<rect x="4" y="597" width="1" height="3" fill="#000" />
<rect x="68" y="597" width="1" height="3" fill="#000" />
<rect x="132" y="597" width="1" height="3" fill="#000" />
<rect x="196" y="597" width="1" height="3" fill="#000" />
<rect x="260" y="597" width="1" height="3" fill="#000" />
<rect x="324" y="597" width="1" height="3" fill="#000" />
<rect x="388" y="597" width="1" height="3" fill="#000" />
<rect x="452" y="597" width="1" height="3" fill="#000" />
<rect x="516" y="597" width="1" height="3" fill="#000" />
<rect x="580" y="597" width="1" height="3" fill="#000" />
<rect x="644" y="597" width="1" height="3" fill="#000" />
<rect x="708" y="597" width="1" height="3" fill="#000" />
<rect x="772" y="597" width="1" height="3" fill="#000" />
<rect x="836" y="597" width="1" height="3" fill="#000" />
<rect x="900" y="597" width="1" height="3" fill="#000" />
<rect x="1167" y="465" width="1" height="1" fill="#000" />
<rect x="1167" y="528" width="1" height="1" fill="#000" />
<rect x="1167" y="533" width="1" height="1" fill="#000" />
<rect x="1167" y="570" width="1" height="1" fill="#000" />
<rect x="1167" y="595" width="1" height="1" fill="#000" />
<rect x="1168" y="247" width="41" height="11" fill="#000" />
</g>
<text x="1172.6" y="66.1" font-size="9.6" fill="#000" font-weight="normal" text-anchor="start" textLength="32.6" lengthAdjust="spacingAndGlyphs" stroke="#000" stroke-width="0.2" >1.36485</text>
<text x="1172.6" y="99.1" font-size="9.6" fill="#000" font-weight="normal" text-anchor="start" textLength="32.6" lengthAdjust="spacingAndGlyphs" stroke="#000" stroke-width="0.2" >1.35975</text>
<text x="1172.6" y="132.1" font-size="9.6" fill="#000" font-weight="normal" text-anchor="start" textLength="32.6" lengthAdjust="spacingAndGlyphs" stroke="#000" stroke-width="0.2" >1.35465</text>
<text x="1172.6" y="165.1" font-size="9.6" fill="#000" font-weight="normal" text-anchor="start" textLength="32.6" lengthAdjust="spacingAndGlyphs" stroke="#000" stroke-width="0.2" >1.34955</text>
<text x="1172.6" y="198.1" font-size="9.6" fill="#000" font-weight="normal" text-anchor="start" textLength="32.6" lengthAdjust="spacingAndGlyphs" stroke="#000" stroke-width="0.2" >1.34445</text>
<text x="1172.6" y="231.1" font-size="9.6" fill="#000" font-weight="normal" text-anchor="start" textLength="32.6" lengthAdjust="spacingAndGlyphs" stroke="#000" stroke-width="0.2" >1.33935</text>
<text x="1172.6" y="264.1" font-size="9.6" fill="#000" font-weight="normal" text-anchor="start" textLength="32.6" lengthAdjust="spacingAndGlyphs" stroke="#000" stroke-width="0.2" >1.33425</text>
<text x="1172.6" y="297.1" font-size="9.6" fill="#000" font-weight="normal" text-anchor="start" textLength="32.6" lengthAdjust="spacingAndGlyphs" stroke="#000" stroke-width="0.2" >1.32915</text>
<text x="1172.6" y="330.1" font-size="9.6" fill="#000" font-weight="normal" text-anchor="start" textLength="32.6" lengthAdjust="spacingAndGlyphs" stroke="#000" stroke-width="0.2" >1.32405</text>
<text x="1172.6" y="363.1" font-size="9.6" fill="#000" font-weight="normal" text-anchor="start" textLength="32.6" lengthAdjust="spacingAndGlyphs" stroke="#000" stroke-width="0.2" >1.31895</text>
<text x="1172.6" y="396.1" font-size="9.6" fill="#000" font-weight="normal" text-anchor="start" textLength="32.6" lengthAdjust="spacingAndGlyphs" stroke="#000" stroke-width="0.2" >1.31385</text>
<text x="1172.6" y="429.1" font-size="9.6" fill="#000" font-weight="normal" text-anchor="start" textLength="32.6" lengthAdjust="spacingAndGlyphs" stroke="#000" stroke-width="0.2" >1.30875</text>
<text x="1172.6" y="462.1" font-size="9.6" fill="#000" font-weight="normal" text-anchor="start" textLength="32.6" lengthAdjust="spacingAndGlyphs" stroke="#000" stroke-width="0.2" >1.30365</text>
<text x="1172.6" y="256" font-size="9.6" fill="#fff" font-weight="normal" text-anchor="start" textLength="32.6" lengthAdjust="spacingAndGlyphs" stroke="#fff" stroke-width="0.2" >1.33542</text>
<text x="1169.6" y="473.8" font-size="9.6" fill="#000" font-weight="normal" text-anchor="start" textLength="15.3" lengthAdjust="spacingAndGlyphs" stroke="#000" stroke-width="0.2" >100</text>
<text x="1169" y="487.8" font-size="9.6" fill="#000" font-weight="normal" text-anchor="start" textLength="10" lengthAdjust="spacingAndGlyphs" stroke="#000" stroke-width="0.2" >70</text>
<text x="1169" y="512.6" font-size="9.6" fill="#000" font-weight="normal" text-anchor="start" textLength="10" lengthAdjust="spacingAndGlyphs" stroke="#000" stroke-width="0.2" >30</text>
<text x="1169.7" y="525.7" font-size="9.6" fill="#000" font-weight="normal" text-anchor="start" textLength="5.3" lengthAdjust="spacingAndGlyphs" stroke="#000" stroke-width="0.2" >0</text>
<text x="1169.7" y="541.8" font-size="9.6" fill="#000" font-weight="normal" text-anchor="start" textLength="38" lengthAdjust="spacingAndGlyphs" stroke="#000" stroke-width="0.2" >0.010525</text>
<text x="1169.7" y="573.7" font-size="9.6" fill="#000" font-weight="normal" text-anchor="start" textLength="18.3" lengthAdjust="spacingAndGlyphs" stroke="#000" stroke-width="0.2" >0.00</text>
<text x="1170" y="592.9" font-size="9.6" fill="#000" font-weight="normal" text-anchor="start" textLength="31" lengthAdjust="spacingAndGlyphs" stroke="#000" stroke-width="0.2" >-0.0073</text>
<text x="3.3" y="608.8" font-size="9.6" fill="#000" font-weight="normal" text-anchor="start" textLength="50.2" lengthAdjust="spacingAndGlyphs" stroke="#000" stroke-width="0.2" >31 Oct 2018</text>
<text x="67.3" y="608.8" font-size="9.6" fill="#000" font-weight="normal" text-anchor="start" textLength="49" lengthAdjust="spacingAndGlyphs" stroke="#000" stroke-width="0.2" >9 Nov 2018</text>
<text x="130.7" y="608.8" font-size="9.6" fill="#000" font-weight="normal" text-anchor="start" textLength="53.5" lengthAdjust="spacingAndGlyphs" stroke="#000" stroke-width="0.2" >19 Nov 2018</text>
<text x="195.3" y="608.8" font-size="9.6" fill="#000" font-weight="normal" text-anchor="start" textLength="53.6" lengthAdjust="spacingAndGlyphs" stroke="#000" stroke-width="0.2" >28 Nov 2018</text>
<text x="259.3" y="608.8" font-size="9.6" fill="#000" font-weight="normal" text-anchor="start" textLength="46.6" lengthAdjust="spacingAndGlyphs" stroke="#000" stroke-width="0.2" >7 Dec 2018</text>
<text x="322.7" y="608.8" font-size="9.6" fill="#000" font-weight="normal" text-anchor="start" textLength="51.5" lengthAdjust="spacingAndGlyphs" stroke="#000" stroke-width="0.2" >17 Dec 2018</text>
<text x="387.3" y="608.8" font-size="9.6" fill="#000" font-weight="normal" text-anchor="start" textLength="51.5" lengthAdjust="spacingAndGlyphs" stroke="#000" stroke-width="0.2" >26 Dec 2018</text>
<text x="451.3" y="608.8" font-size="9.6" fill="#000" font-weight="normal" text-anchor="start" textLength="44.5" lengthAdjust="spacingAndGlyphs" stroke="#000" stroke-width="0.2" >4 Jan 2019</text>
<text x="514.7" y="608.8" font-size="9.6" fill="#000" font-weight="normal" text-anchor="start" textLength="48.6" lengthAdjust="spacingAndGlyphs" stroke="#000" stroke-width="0.2" >14 Jan 2019</text>
<text x="579.3" y="608.8" font-size="9.6" fill="#000" font-weight="normal" text-anchor="start" textLength="48.6" lengthAdjust="spacingAndGlyphs" stroke="#000" stroke-width="0.2" >23 Jan 2019</text>
<text x="642.7" y="608.8" font-size="9.6" fill="#000" font-weight="normal" text-anchor="start" textLength="45.7" lengthAdjust="spacingAndGlyphs" stroke="#000" stroke-width="0.2" >1 Feb 2019</text>
<text x="706.7" y="608.8" font-size="9.6" fill="#000" font-weight="normal" text-anchor="start" textLength="50.3" lengthAdjust="spacingAndGlyphs" stroke="#000" stroke-width="0.2" >11 Feb 2019</text>
<text x="771.3" y="608.8" font-size="9.6" fill="#000" font-weight="normal" text-anchor="start" textLength="50.7" lengthAdjust="spacingAndGlyphs" stroke="#000" stroke-width="0.2" >20 Feb 2019</text>
<text x="834.7" y="608.8" font-size="9.6" fill="#000" font-weight="normal" text-anchor="start" textLength="45.6" lengthAdjust="spacingAndGlyphs" stroke="#000" stroke-width="0.2" >1 Mar 2019</text>
<text x="898.7" y="608.8" font-size="9.6" fill="#000" font-weight="normal" text-anchor="start" textLength="51.2" lengthAdjust="spacingAndGlyphs" stroke="#000" stroke-width="0.2" >11 Mar 2019</text>
<text x="0.3" y="17.9" font-size="9.6" fill="#3c3c3c" font-weight="normal" text-anchor="start" textLength="4.6" lengthAdjust="spacingAndGlyphs" stroke="#3c3c3c" stroke-width="0.2" >5</text>
<text x="15.2" y="17.9" font-size="9.6" fill="#3c3c3c" font-weight="normal" text-anchor="start" textLength="18" lengthAdjust="spacingAndGlyphs" stroke="#3c3c3c" stroke-width="0.2" >M30</text>
<text x="46.1" y="17.9" font-size="9.6" fill="#3c3c3c" font-weight="normal" text-anchor="start" textLength="12" lengthAdjust="spacingAndGlyphs" stroke="#3c3c3c" stroke-width="0.2" >H1</text>
<text x="73.1" y="17.9" font-size="9.6" fill="#3c3c3c" font-weight="normal" text-anchor="start" textLength="12.8" lengthAdjust="spacingAndGlyphs" stroke="#3c3c3c" stroke-width="0.2" >H4</text>
<text x="102.2" y="17.9" font-size="9.6" fill="#3c3c3c" font-weight="normal" text-anchor="start" textLength="11.5" lengthAdjust="spacingAndGlyphs" stroke="#3c3c3c" stroke-width="0.2" >D1</text>
<text x="130.1" y="17.9" font-size="9.6" fill="#3c3c3c" font-weight="normal" text-anchor="start" textLength="14.3" lengthAdjust="spacingAndGlyphs" stroke="#3c3c3c" stroke-width="0.2" >W1</text>
<text x="155.9" y="17.9" font-size="9.6" fill="#3c3c3c" font-weight="normal" text-anchor="start" textLength="15.4" lengthAdjust="spacingAndGlyphs" stroke="#3c3c3c" stroke-width="0.2" >MN</text>
<text x="19.3" y="42" font-size="9.6" fill="#000" font-weight="normal" text-anchor="start" textLength="65.5" lengthAdjust="spacingAndGlyphs" stroke="#000" stroke-width="0.2" >USDCAD,Daily</text>
<text x="91.3" y="42" font-size="9.6" fill="#000" font-weight="normal" text-anchor="start" textLength="140.3" lengthAdjust="spacingAndGlyphs" stroke="#000" stroke-width="0.2" >1.33790 1.33821 1.33485 1.33542</text>
<path d="M7,41.3 L10.5,37.3 L14,41.3 Z" fill="#000"/>
<text x="7.9" y="476" font-size="9.6" fill="#000" font-weight="normal" text-anchor="start" textLength="31.5" lengthAdjust="spacingAndGlyphs" stroke="#000" stroke-width="0.2" >RSI(14)</text>
<text x="43" y="476" font-size="9.6" fill="#000" font-weight="normal" text-anchor="start" textLength="32.8" lengthAdjust="spacingAndGlyphs" stroke="#000" stroke-width="0.2" >55.6597</text>
<text x="7.6" y="543.7" font-size="9.6" fill="#000" font-weight="normal" text-anchor="start" textLength="65.8" lengthAdjust="spacingAndGlyphs" stroke="#000" stroke-width="0.2" >MACD(12,26,9)</text>
<text x="77" y="543.7" font-size="9.6" fill="#000" font-weight="normal" text-anchor="start" textLength="78.8" lengthAdjust="spacingAndGlyphs" stroke="#000" stroke-width="0.2" >0.004424 0.003192</text>
</svg><!-- one click trading panel -->
<svg class="abs" style="left:0;top:44px" width="240" height="76" viewBox="0 44 240 76" font-family="Liberation Sans, sans-serif">
<defs>
<linearGradient id="rg" x1="0" y1="50" x2="0" y2="114" gradientUnits="userSpaceOnUse">
<stop offset="0" stop-color="#fb5252"/><stop offset="0.35" stop-color="#e83434"/><stop offset="0.7" stop-color="#cc1414"/><stop offset="1" stop-color="#ad0000"/>
</linearGradient>
<linearGradient id="bg" x1="0" y1="0" x2="0" y2="1"><stop offset="0" stop-color="#eeeeee"/><stop offset="0.45" stop-color="#e4e4e4"/><stop offset="0.5" stop-color="#d8d8d8"/><stop offset="1" stop-color="#d0d0d0"/></linearGradient>
</defs>
<path d="M7.5,50.5 H58.5 V74.5 H115.5 V113.5 H7.5 Z" fill="url(#rg)" stroke="#c41212" stroke-width="1"/>
<path d="M174.5,50.5 H225.5 V113.5 H118.5 V74.5 H174.5 Z" fill="url(#rg)" stroke="#c41212" stroke-width="1"/>
<rect x="11" y="73" width="44" height="1" fill="#a50c0c"/><rect x="11" y="74" width="44" height="1" fill="#f06060"/>
<rect x="178" y="73" width="44" height="1" fill="#a50c0c"/><rect x="178" y="74" width="44" height="1" fill="#f06060"/>
<!-- spinner -->
<rect x="61.5" y="50.5" width="110" height="21" fill="#fff" stroke="#a9a9b2"/>
<rect x="62" y="51" width="20" height="20" fill="#fff"/><rect x="63" y="52" width="18" height="18" fill="url(#bg)"/>
<rect x="151" y="51" width="20" height="20" fill="#fff"/><rect x="152" y="52" width="18" height="18" fill="url(#bg)"/>
<rect x="82" y="51" width="1" height="20" fill="#a9a9b2"/><rect x="150" y="51" width="1" height="20" fill="#a9a9b2"/>
<path d="M68.8,59 H74.2 L71.5,62.2 Z" fill="#5468c8"/>
<path d="M157.8,62.1 H163.2 L160.5,58.8 Z" fill="#5468c8"/>
<text x="116.2" y="65" font-size="12.5" fill="#000" textLength="30.5" lengthAdjust="spacingAndGlyphs">10.00</text>
<text x="19.5" y="65.8" font-size="12.5" fill="#fff" textLength="26" lengthAdjust="spacingAndGlyphs">SELL</text>
<text x="187.4" y="65.8" font-size="12.5" fill="#fff" textLength="23.6" lengthAdjust="spacingAndGlyphs">BUY</text>
<text x="27.5" y="104.6" font-size="11" font-weight="bold" fill="#fff" stroke="#fff" stroke-width="0.3" textLength="23" lengthAdjust="spacingAndGlyphs">1.33</text>
<text x="137.5" y="104.6" font-size="11" font-weight="bold" fill="#fff" stroke="#fff" stroke-width="0.3" textLength="23" lengthAdjust="spacingAndGlyphs">1.33</text>
<text x="55.5" y="104.8" font-size="35" fill="#fff" stroke="url(#rg)" stroke-width="0.35" textLength="34" lengthAdjust="spacingAndGlyphs">54</text>
<text x="166" y="104.8" font-size="35" fill="#fff" stroke="url(#rg)" stroke-width="0.35" textLength="34" lengthAdjust="spacingAndGlyphs">56</text>
<text x="94.2" y="88.8" font-size="11.5" font-weight="bold" fill="#fff" stroke="#fff" stroke-width="0.3" textLength="6.5" lengthAdjust="spacingAndGlyphs">2</text>
<text x="205.2" y="88.8" font-size="11.5" font-weight="bold" fill="#fff" stroke="#fff" stroke-width="0.3" textLength="6.8" lengthAdjust="spacingAndGlyphs">6</text>
</svg>
<!-- bottom tabs -->
<div id="tabpre"></div><div id="tabbar"></div><div id="tabtop"></div>
<div id="bot1"></div><div id="bot2"></div>
<div id="acttab"></div>
<div class="tab" style="left:17px">EURUSD,Daily</div><div class="sep" style="left:109px"></div>
<div class="tab" style="left:120px">AUDUSD,Daily</div><div class="sep" style="left:213px"></div>
<div class="tab" style="left:223px">USDCHF,Daily</div>
<div class="tab" style="left:324px;color:#000">USDCAD,Daily</div>
<div class="tab" style="left:427px">USDCNH,H4</div><div class="sep" style="left:509px"></div>
<div class="tab" style="left:519px">USDJPY,Daily</div><div class="sep" style="left:605px"></div>
<div class="tab" style="left:616px">XAUUSD,H1</div><div class="sep" style="left:697px"></div>
<div class="tab" style="left:709px">GBPUSD,H4</div><div class="sep" style="left:789px"></div>
<div class="tab" style="left:801px">SP500,M15</div><div class="sep" style="left:877px"></div>
<div class="tab" style="left:889px">GBPUSD,Daily</div><div class="sep" style="left:981px"></div>
<div class="tab" style="left:991px">DJ30,H4</div><div class="sep" style="left:1049px"></div>
<div class="tab" style="left:1059px">TECH100,H1</div><div class="sep" style="left:1141px"></div>
<div class="tab" style="left:1153px;width:23px;overflow:hidden">UKC</div>
<svg class="abs" style="left:1176px;top:620px" width="38" height="19" viewBox="0 0 38 19"><rect y="1" width="38" height="18" fill="#f0f0f0"/><path d="M9.2,4.8 L5.8,8 L9.2,11.2 Z" fill="#a0a0a0"/><path d="M24.8,4.5 L28.6,8 L24.8,11.5 Z" fill="#000"/></svg>
</body></html>
